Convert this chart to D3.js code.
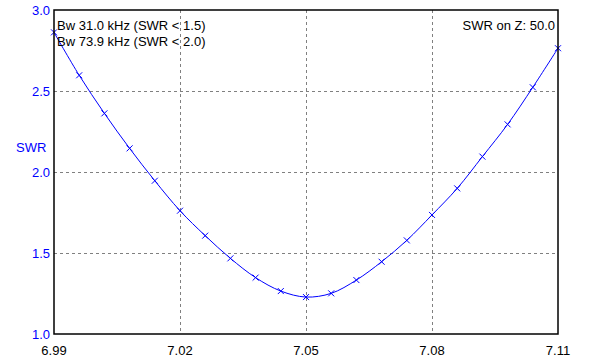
<!DOCTYPE html>
<html>
<head>
<meta charset="utf-8">
<script src="https://cdn.jsdelivr.net/npm/d3@7"></script>
<style>
  body { margin: 0; background: #fff; }
  text { font-family: "Liberation Sans", Arial, sans-serif; font-size: 13px; }
</style>
</head>
<body>
<div id="chart"></div>
<script>
var width = 594;
var height = 364;

// frequency (MHz) of each sweep point
var freqs = [6.990, 6.996, 7.002, 7.008, 7.014, 7.020, 7.026, 7.032, 7.038, 7.044,
             7.050, 7.056, 7.062, 7.068, 7.074, 7.080, 7.086, 7.092, 7.098, 7.104, 7.110];
// SWR
var swr = [2.862, 2.597, 2.362, 2.146, 1.946, 1.761, 1.607, 1.467, 1.348, 1.265,
           1.228, 1.251, 1.333, 1.446, 1.578, 1.735, 1.899, 2.095, 2.294, 2.523, 2.764];

var xTicks = [6.99, 7.02, 7.05, 7.08, 7.11];
var yTicks = [1.0, 1.5, 2.0, 2.5, 3.0];
var infoLines = ["Bw 31.0 kHz (SWR < 1.5)", "Bw 73.9 kHz (SWR < 2.0)"];
var zLabel = "SWR on Z: 50.0";

var margin = {left: 54, right: 36, top: 10, bottom: 30};

var x = d3.scaleLinear()
  .domain([6.99, 7.11])
  .range([margin.left, width - margin.right]);

var y = d3.scaleLinear()
  .domain([1.0, 3.0])
  .range([height - margin.bottom, margin.top]);

var svg = d3.select("#chart")
  .append("svg")
  .attr("width", width)
  .attr("height", height);

svg.append("rect")
  .attr("width", "100%")
  .attr("height", "100%")
  .attr("fill", "white");

// grid lines (inner ticks only)
svg.append("g")
  .selectAll("line")
  .data(xTicks.slice(1, -1))
  .enter()
  .append("line")
  .attr("x1", function(d) { return x(d); })
  .attr("x2", function(d) { return x(d); })
  .attr("y1", y(3.0))
  .attr("y2", y(1.0))
  .attr("stroke", "#808080")
  .attr("stroke-dasharray", "3,3")
  .attr("shape-rendering", "crispEdges");

svg.append("g")
  .selectAll("line")
  .data(yTicks.slice(1, -1))
  .enter()
  .append("line")
  .attr("x1", x(6.99))
  .attr("x2", x(7.11))
  .attr("y1", function(d) { return y(d); })
  .attr("y2", function(d) { return y(d); })
  .attr("stroke", "#808080")
  .attr("stroke-dasharray", "3,3")
  .attr("shape-rendering", "crispEdges");

// x labels
svg.append("g")
  .selectAll("text")
  .data(xTicks)
  .enter()
  .append("text")
  .attr("x", function(d) { return x(d); })
  .attr("y", y(1.0) + 21)
  .attr("text-anchor", "middle")
  .attr("fill", "#000")
  .text(function(d) { return d3.format(".2f")(d); });

// y labels
svg.append("g")
  .selectAll("text")
  .data(yTicks)
  .enter()
  .append("text")
  .attr("x", x(6.99) - 4)
  .attr("y", function(d) { return y(d) + 4.5; })
  .attr("text-anchor", "end")
  .attr("fill", "#0000ff")
  .text(function(d) { return d3.format(".1f")(d); });

svg.append("text")
  .attr("x", 16)
  .attr("y", 152)
  .attr("fill", "#0000ff")
  .text("SWR");

// the SWR curve
var pts = freqs.map(function(f, i) { return [f, swr[i]]; });

var line = d3.line()
  .x(function(d) { return x(d[0]); })
  .y(function(d) { return y(d[1]); })
  .curve(d3.curveCatmullRom);

svg.append("path")
  .datum(pts)
  .attr("d", line)
  .attr("fill", "none")
  .attr("stroke", "#0000ff")
  .attr("stroke-width", 1);

// x markers
var m = 3;
svg.append("g")
  .selectAll("path")
  .data(pts)
  .enter()
  .append("path")
  .attr("d", function(d) {
    var cx = x(d[0]), cy = y(d[1]);
    return "M" + (cx - m) + "," + (cy - m) + "L" + (cx + m) + "," + (cy + m) +
           "M" + (cx - m) + "," + (cy + m) + "L" + (cx + m) + "," + (cy - m);
  })
  .attr("stroke", "#0000ff")
  .attr("stroke-width", 1)
  .attr("fill", "none");

// frame
svg.append("rect")
  .attr("x", x(6.99))
  .attr("y", y(3.0))
  .attr("width", x(7.11) - x(6.99))
  .attr("height", y(1.0) - y(3.0))
  .attr("fill", "none")
  .attr("stroke", "#000")
  .attr("stroke-width", 1.5);

// bandwidth info
svg.append("g")
  .selectAll("text")
  .data(infoLines)
  .enter()
  .append("text")
  .attr("x", x(6.99) + 3)
  .attr("y", function(d, i) { return 30 + i * 16; })
  .attr("fill", "#000")
  .text(function(d) { return d; });

svg.append("text")
  .attr("x", x(7.11) - 3)
  .attr("y", 30)
  .attr("text-anchor", "end")
  .attr("fill", "#000")
  .text(zLabel);
</script>
</body>
</html>
